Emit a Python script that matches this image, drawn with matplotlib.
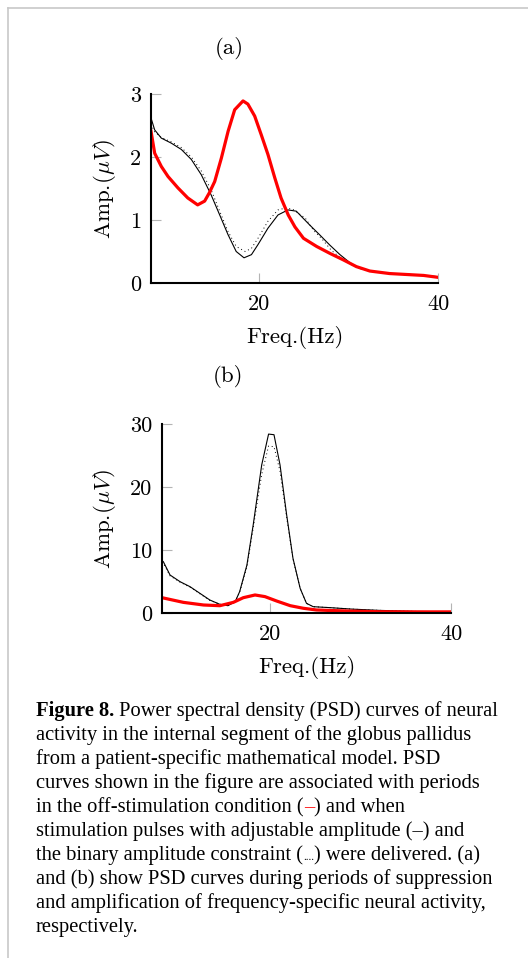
import numpy as np
import matplotlib; matplotlib.use("Agg")
import matplotlib.pyplot as plt

plt.rcParams["mathtext.fontset"] = "cm"

W, H = 528, 958

# panel (a): suppression, 8-40 Hz
a_off_f = [8, 8.41, 9.15, 9.9, 11.0, 12.1, 13.2, 13.98, 14.5, 15.1, 15.84, 16.6, 17.33, 18.26,
           18.8, 19.56, 20.3, 21.04, 21.8, 22.5, 23.3, 24.05, 25.0, 26.47, 27.95, 29.4, 30.9,
           32.4, 34.6, 38.4, 40]
a_off = [2.41, 2.06, 1.85, 1.69, 1.51, 1.35, 1.24, 1.30, 1.43, 1.61, 1.98, 2.41, 2.75, 2.89,
         2.84, 2.65, 2.35, 2.04, 1.67, 1.35, 1.08, 0.89, 0.71, 0.58, 0.47, 0.37, 0.26,
         0.19, 0.15, 0.12, 0.09]
a_adj_f = [8, 8.41, 9.15, 10.26, 11.38, 12.5, 13.6, 14.7, 15.66, 16.58, 17.5, 18.37, 19.2,
           19.93, 21.04, 22.16, 23.27, 24.2, 25.7, 26.84, 27.95, 29.07, 30.2, 31.3, 32.8,
           34.6, 36.5, 38.4, 40]
a_adj = [2.62, 2.43, 2.30, 2.22, 2.12, 1.96, 1.72, 1.40, 1.08, 0.77, 0.50, 0.40, 0.45,
         0.61, 0.87, 1.08, 1.16, 1.14, 0.92, 0.76, 0.60, 0.45, 0.32, 0.23, 0.18,
         0.15, 0.14, 0.12, 0.10]
a_bin_f = [8, 8.41, 9.15, 10.26, 11.38, 12.5, 13.6, 14.7, 15.66, 16.58, 17.5, 18.5, 19.2,
           19.93, 21.04, 22.16, 23.0, 23.8, 25.2, 26.1, 27.0, 28.1, 29.2, 30.2, 31.3, 32.8,
           34.6, 36.5, 38.4, 40]
a_bin = [2.52, 2.40, 2.31, 2.24, 2.15, 2.0, 1.78, 1.48, 1.14, 0.82, 0.58, 0.50, 0.55,
         0.71, 0.98, 1.16, 1.19, 1.17, 1.03, 0.84, 0.71, 0.52, 0.39, 0.30, 0.23, 0.18,
         0.15, 0.14, 0.12, 0.10]

# panel (b): amplification, 8-40 Hz
b_off_f = [8, 10.36, 12.6, 14.4, 15.9, 17.0, 18.3, 19.4, 20.7, 22.2, 23.65, 25.1, 26.6,
           29.0, 32.0, 36.0, 40]
b_off = [2.43, 1.69, 1.27, 1.16, 1.69, 2.43, 2.86, 2.6, 1.9, 1.16, 0.75, 0.48, 0.4,
         0.3, 0.2, 0.18, 0.18]
b_adj_f = [8, 8.15, 8.89, 10.0, 11.1, 12.2, 13.3, 14.4, 15.3, 16.1, 16.6, 17.4, 18.1, 19.04,
           19.8, 20.4, 21.07, 21.8, 22.5, 23.3, 24.0, 24.75, 26.6, 29.0, 32.0, 36.0, 40]
b_adj = [8.3, 8.14, 6.03, 4.97, 4.18, 3.12, 2.06, 1.38, 1.16, 1.79, 3.4, 7.6, 14.0, 23.5,
         28.4, 28.3, 23.5, 15.6, 8.7, 3.9, 1.53, 1.0, 0.85, 0.62, 0.42, 0.25, 0.2]
b_bin_f = b_adj_f
b_bin = [8.1, 7.9, 5.9, 4.9, 4.1, 3.05, 2.0, 1.4, 1.2, 1.8, 3.3, 7.3, 13.5, 22.0,
         26.5, 26.4, 22.5, 15.2, 8.6, 3.9, 1.53, 1.0, 0.85, 0.62, 0.42, 0.25, 0.2]

XLIM = (8, 40)
XTICKS = [20, 40]
A_YTICKS = [0, 1, 2, 3]
B_YTICKS = [0, 10, 20, 30]

CAPTION = [
    [("Figure 8.", "bold", "k"), (" Power spectral density (PSD) curves of neural", "normal", "k")],
    [("activity in the internal segment of the globus pallidus", "normal", "k")],
    [("from a patient-specific mathematical model. PSD", "normal", "k")],
    [("curves shown in the figure are associated with periods", "normal", "k")],
    [("in the off-stimulation condition (", "normal", "k"), ("\u2013", "normal", "red"),
     (") and when", "normal", "k")],
    [("stimulation pulses with adjustable amplitude (\u2013) and", "normal", "k")],
    [("the binary amplitude constraint (", "normal", "k"), ("....", "dots", "k"),
     (") were delivered. (a)", "normal", "k")],
    [("and (b) show PSD curves during periods of suppression", "normal", "k")],
    [("and amplification of frequency-specific neural activity,", "normal", "k")],
    [("respectively.", "normal", "k")],
]

FS = 16
CM = "cmr10"
fig = plt.figure(figsize=(W / 100, H / 100), dpi=100)


def px_axes(l, t, r, b):
    return fig.add_axes([l / W, 1 - b / H, (r - l) / W, (b - t) / H])


def style(ax, yticks):
    ax.set_xlim(*XLIM)
    ax.set_ylim(yticks[0], yticks[-1])
    ax.spines[["top", "right"]].set_visible(False)
    for s in ("left", "bottom"):
        ax.spines[s].set_linewidth(1.5)
    ax.set_xticks(XTICKS)
    ax.set_xticklabels([str(v) for v in XTICKS], family=CM)
    ax.set_yticks(yticks)
    ax.set_yticklabels([str(v) for v in yticks], family=CM)
    ax.tick_params(direction="in", length=7, width=0.8, color="#b4b4b4", labelsize=FS)
    ax.tick_params(axis="x", pad=8)
    ax.tick_params(axis="y", pad=7)
    ax.set_xlabel("Freq.(Hz)", fontsize=16.5, family=CM, labelpad=9)
    ax.set_ylabel(r"Amp.($\mu V$)", fontsize=16.5, family=CM, labelpad=9)
    ax.patch.set_visible(False)


axa = px_axes(151, 94, 438, 283)
axa.plot(a_adj_f, a_adj, color="k", lw=0.8)
axa.plot(a_bin_f, a_bin, color="k", lw=0.7, ls=(0, (1, 3)))
axa.plot(a_off_f, a_off, color="red", lw=2.3)
style(axa, A_YTICKS)
fig.text(229 / W, 1 - 48 / H, "(a)", family=CM, fontsize=16.5, ha="center", va="center")

axb = px_axes(162, 424, 451, 613)
axb.plot(b_adj_f, b_adj, color="k", lw=0.8)
axb.plot(b_bin_f, b_bin, color="k", lw=0.7, ls=(0, (1, 3)))
axb.plot(b_off_f, b_off, color="red", lw=2.3)
style(axb, B_YTICKS)
fig.text(228 / W, 1 - 377 / H, "(b)", family=CM, fontsize=16.5, ha="center", va="center")

# page border
fig.add_artist(plt.Line2D([8 / W, 8 / W], [0, 1 - 8 / H], color="#c8c8c8", lw=1.2))
fig.add_artist(plt.Line2D([8 / W, 1], [1 - 8 / H, 1 - 8 / H], color="#c8c8c8", lw=1.2))

# caption, placed segment by segment
fig.canvas.draw()
rend = fig.canvas.get_renderer()
for i, line in enumerate(CAPTION):
    x = 36
    y = 716 + i * 24
    for txt, kind, col in line:
        kw = dict(family="Liberation Serif", fontsize=14.8, color=col, va="baseline")
        if kind == "bold":
            kw["weight"] = "bold"
        if kind == "dots":
            kw["fontsize"] = 8
        t = fig.text(x / W, 1 - y / H, txt, **kw)
        x = t.get_window_extent(rend).x1

fig.savefig("out.png", dpi=100)
